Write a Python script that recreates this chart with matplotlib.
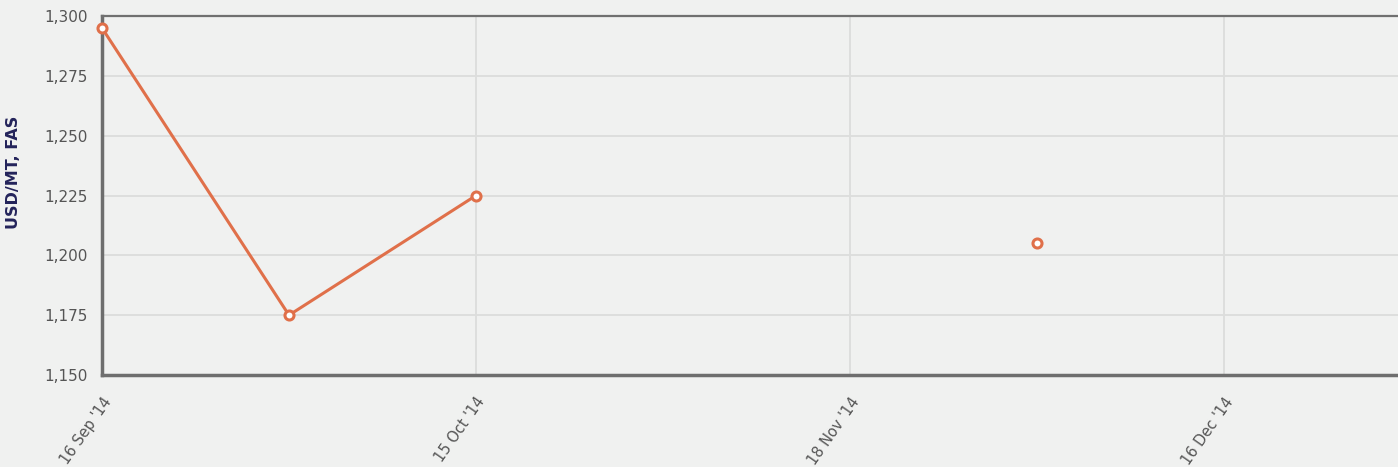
"""Price chart: USD/MT, FAS over weekly-ish report dates."""

import matplotlib.pyplot as plt
import numpy as np
from matplotlib.ticker import FuncFormatter, MultipleLocator

# --- data ---
dates = ["16 Sep '14", "30 Sep '14", "15 Oct '14", "04 Nov '14",
         "18 Nov '14", "02 Dec '14", "16 Dec '14"]
prices = [1295, 1175, 1225, np.nan, np.nan, 1205, np.nan]
shown_labels = ["16 Sep '14", "15 Oct '14", "18 Nov '14", "16 Dec '14"]

BG = "#f0f1f0"
LINE = "#e0704a"

fig = plt.figure(figsize=(13.98, 4.67), dpi=100, facecolor=BG)
ax = fig.add_axes([102 / 1398, 1 - 375 / 467, 1 - 102 / 1398, (375 - 16) / 467])
ax.set_facecolor(BG)

x = np.arange(len(dates))
ax.plot(x, prices, color=LINE, lw=2.2, marker="o", ms=6.5,
        mfc="white", mec=LINE, mew=2.2, zorder=3, clip_on=False)

ax.set_ylim(1150, 1300)
ax.set_xlim(0, 1296 / 187)
ax.yaxis.set_major_locator(MultipleLocator(25))
ax.yaxis.set_major_formatter(FuncFormatter(lambda v, _: f"{v:,.0f}"))

tick_pos = [dates.index(d) for d in shown_labels]
ax.set_xticks(tick_pos)
ax.set_xticklabels(shown_labels, rotation=55, ha="right", va="top",
                   rotation_mode="anchor", color="#555555", fontsize=10.5)
ax.tick_params(axis="y", length=0, pad=10, labelsize=11, labelcolor="#555555")
ax.tick_params(axis="x", length=0, pad=14)

ax.grid(True, color="#dcdddc", lw=1.3)
ax.set_axisbelow(True)

for side in ("left", "bottom"):
    ax.spines[side].set_color("#6e6e6e")
    ax.spines[side].set_linewidth(2.5)
ax.spines["top"].set_color("#707070")
ax.spines["top"].set_linewidth(1.6)
ax.spines["right"].set_visible(False)

fig.text(14 / 1398, 1 - 172 / 467, "USD/MT, FAS", rotation=90, ha="center",
         va="center", fontsize=11.5, fontweight="bold", color="#23235a")

fig.savefig("out.png", dpi=100, facecolor=BG)
